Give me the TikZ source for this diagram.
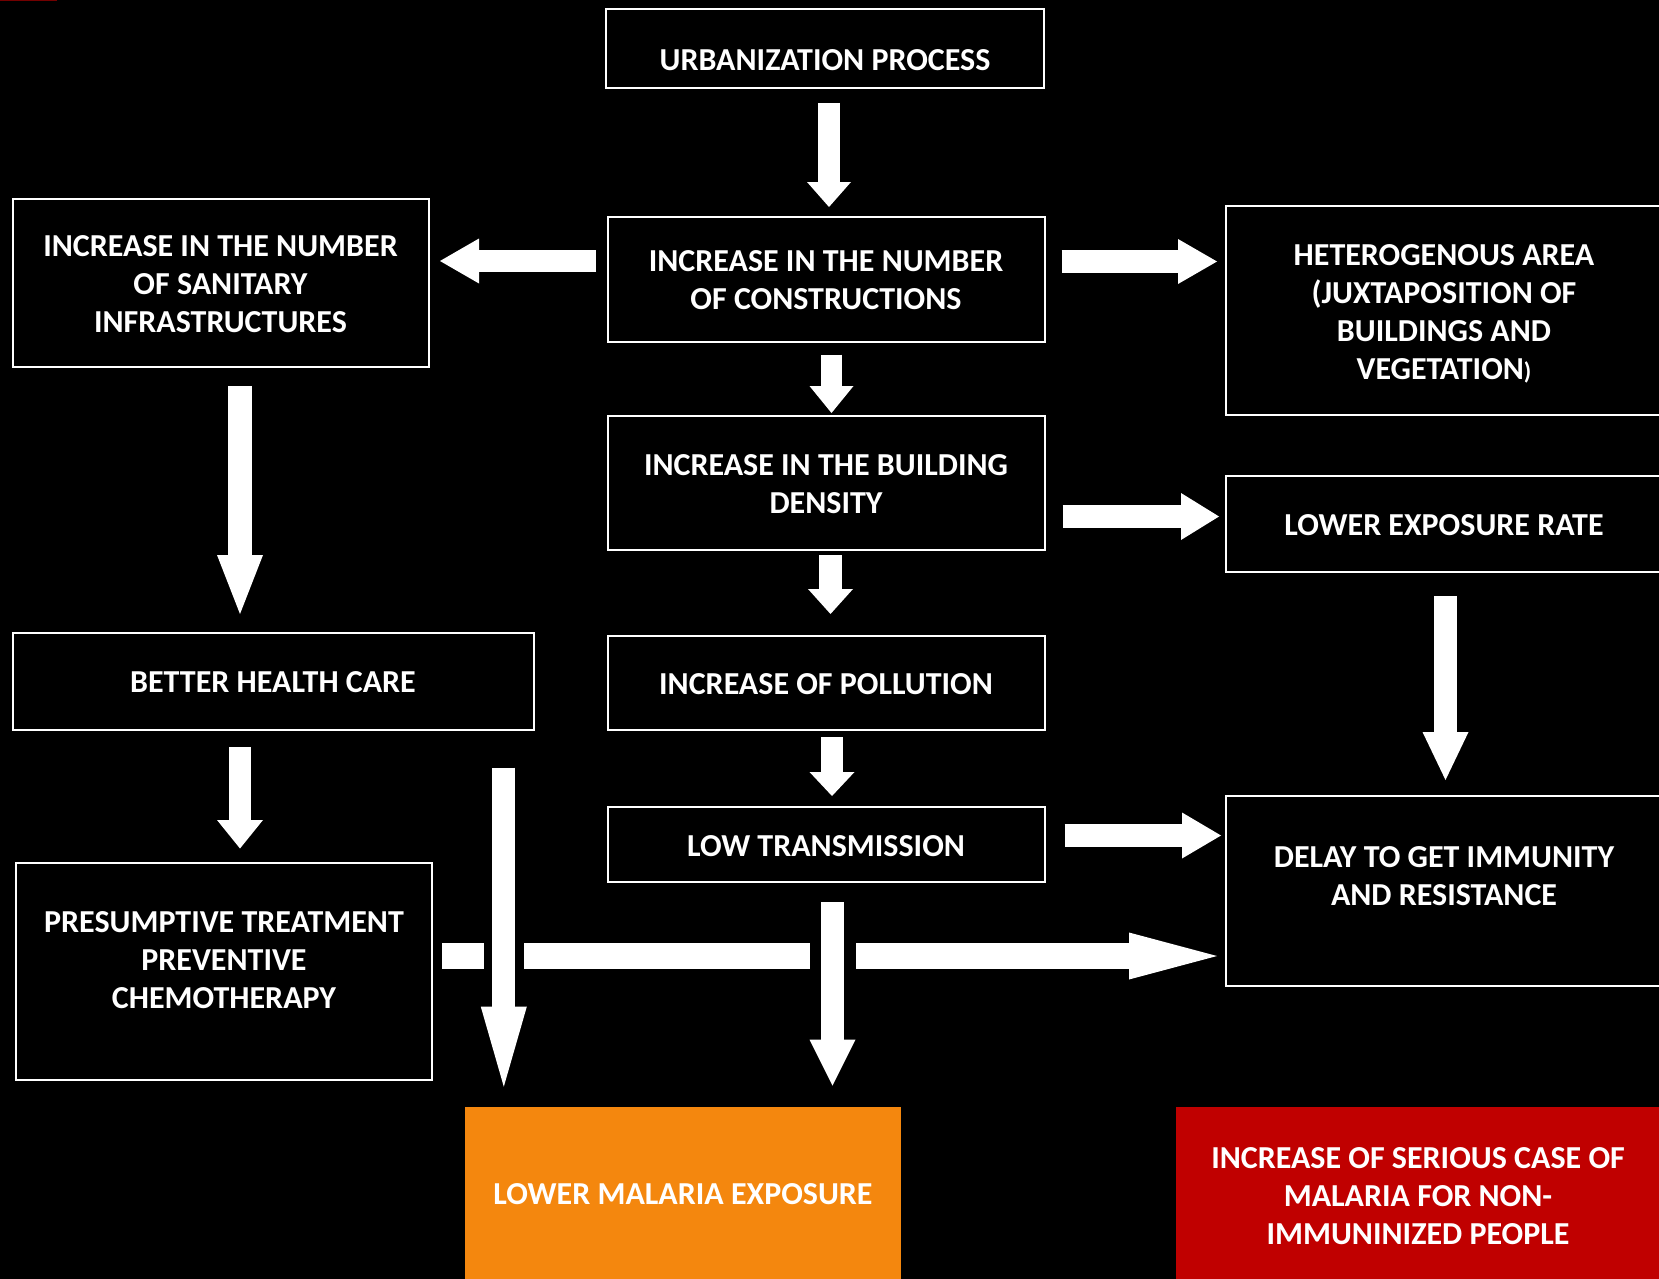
\documentclass[tikz,border=0pt]{standalone}
\usepackage{fontspec}
\setmainfont{Carlito}
\usetikzlibrary{arrows.meta,calc}
\definecolor{orng}{HTML}{F4870E}
\definecolor{dred}{HTML}{C00000}
\newcommand\txtfont{\fontsize{16}{19}\selectfont\bfseries}
\begin{document}
\begin{tikzpicture}[x=0.5pt,y=-0.5pt,
  box/.style={draw=white, line width=1pt, fill=black, text=white, align=center, inner sep=0pt, outer sep=0pt, font=\txtfont},
  fillbox/.style={draw=none, inner sep=0pt, outer sep=0pt},
  txt/.style={text=white, align=center, inner sep=0pt, font=\txtfont},
  barrow/.style n args={3}{draw=white, line width=#1, -{Triangle[length=#2,width=#3,line width=0pt]}},
  halo/.style={preaction={draw=black, line width=#1, -}}
]
\useasboundingbox (0,0) rectangle (1659,1279);
\fill[black] (0,0) rectangle (1659,1279);
\fill[red!45!black] (0,0) rectangle (57,1.5);

% boxes
\node[box, minimum width=219pt, minimum height=39.5pt] (urb) at (825,48.5) {};
\node[txt] (urbt) at (825,60) {URBANIZATION PROCESS};
\node[box, minimum width=218.5pt, minimum height=62.5pt] (cons) at (826,279) {};
\node[txt] (const) at (826,280) {INCREASE IN THE NUMBER\\OF CONSTRUCTIONS};
\node[box, minimum width=208pt, minimum height=84pt] (san) at (220.5,283) {};
\node[txt] (sant) at (220.5,284) {INCREASE IN THE NUMBER\\OF SANITARY\\INFRASTRUCTURES};
\node[box, minimum width=218pt, minimum height=104.5pt] (het) at (1444,310.5) {};
\node[txt] (hett) at (1444,314) {HETEROGENOUS AREA\\(JUXTAPOSITION OF\\BUILDINGS AND\\VEGETATION{\fontsize{12}{19}\selectfont)}};
\node[box, minimum width=218.5pt, minimum height=67pt] (dens) at (826,483) {};
\node[txt] (denst) at (826,484.5) {INCREASE IN THE BUILDING\\DENSITY};
\node[box, minimum width=218pt, minimum height=48pt] (lexp) at (1444,524) {};
\node[txt] (lexpt) at (1444,525) {LOWER EXPOSURE RATE};
\node[box, minimum width=260.5pt, minimum height=48.5pt] (bhc) at (273,681.5) {};
\node[txt] (bhct) at (273,682) {BETTER HEALTH CARE};
\node[box, minimum width=218.5pt, minimum height=47pt] (poll) at (826,683) {};
\node[txt] (pollt) at (826,684) {INCREASE OF POLLUTION};
\node[box, minimum width=218.5pt, minimum height=37.5pt] (lowt) at (826,844.5) {};
\node[txt] (lowtt) at (826,846) {LOW TRANSMISSION};
\node[box, minimum width=218pt, minimum height=95pt] (delay) at (1444,891) {};
\node[txt] (delayt) at (1444,876) {DELAY TO GET IMMUNITY\\AND RESISTANCE};
\node[box, minimum width=208pt, minimum height=108.5pt] (pres) at (224,971.5) {};
\node[txt] (prest) at (224,960) {PRESUMPTIVE TREATMENT\\PREVENTIVE\\CHEMOTHERAPY};
\node[fillbox, fill=orng, minimum width=218pt, minimum height=91.5pt] (lme) at (683,1198.5) {};
\node[txt] (lmet) at (683,1194) {LOWER MALARIA EXPOSURE};
\node[fillbox, fill=dred, minimum width=244.5pt, minimum height=91.5pt] (ser) at (1420.5,1198.5) {};
\node[txt] (sert) at (1418,1196.5) {INCREASE OF SERIOUS CASE OF\\MALARIA FOR NON-\\IMMUNINIZED PEOPLE};

% arrows
\draw[barrow={11pt}{12.5pt}{22pt}] ($(urb.south)+(4,15)$) -- ($(cons.north)+(3,-9.5)$);
\draw[barrow={11pt}{19.5pt}{22.5pt}] ($(cons.west)+(-11.5,-18)$) -- ($(san.east)+(11.5,-22)$);
\draw[barrow={11.25pt}{19.5pt}{22.5pt}] ($(cons.east)+(17,-17.5)$) -- ($(het.west)+(-9,-49)$);
\draw[barrow={10.75pt}{13.5pt}{22pt}] ($(cons.south)+(5.5,13)$) -- ($(dens.north)+(5.5,-3)$);
\draw[barrow={11.5pt}{19pt}{23.5pt}] ($(dens.east)+(18,33.5)$) -- ($(lexp.west)+(-7,-7.5)$);
\draw[barrow={11.25pt}{12.5pt}{22.5pt}] ($(dens.south)+(4.5,5)$) -- ($(poll.north)+(4.5,-22)$);
\draw[barrow={11.75pt}{29.5pt}{23pt}] ($(san.south)+(19.5,19)$) -- ($(bhc.north)+(-33,-19)$);
\draw[barrow={11pt}{12pt}{22.5pt}] ($(poll.south)+(6,7)$) -- ($(lowt.north)+(6,-11)$);
\draw[barrow={11.5pt}{24pt}{23pt}] ($(lexp.south)+(1.5,24)$) -- ($(delay.north)+(1.5,-16)$);
\draw[barrow={11.5pt}{19.5pt}{23pt}] ($(lowt.east)+(20,-9)$) -- ($(delay.west)+(-5,-55.5)$);
\draw[barrow={11.25pt}{14.25pt}{23pt}] ($(bhc.south)+(-33,17)$) -- ($(pres.north)+(16,-14.5)$);
\draw[barrow={13pt}{44pt}{23.5pt}] ($(pres.east)+(10,-15.5)$) -- ($(delay.west)+(-9,65)$);
\draw[barrow={11.5pt}{40pt}{23pt}, halo=20pt] ($(bhc.south east)+(-29.7,37.7)$) -- ($(lme.north)+(-179.2,-20.3)$);
\draw[barrow={11.25pt}{23pt}{23pt}, halo=23pt] ($(lowt.south)+(6.5,20.3)$) -- ($(lme.north)+(149.5,-21.3)$);
\end{tikzpicture}
\end{document}
